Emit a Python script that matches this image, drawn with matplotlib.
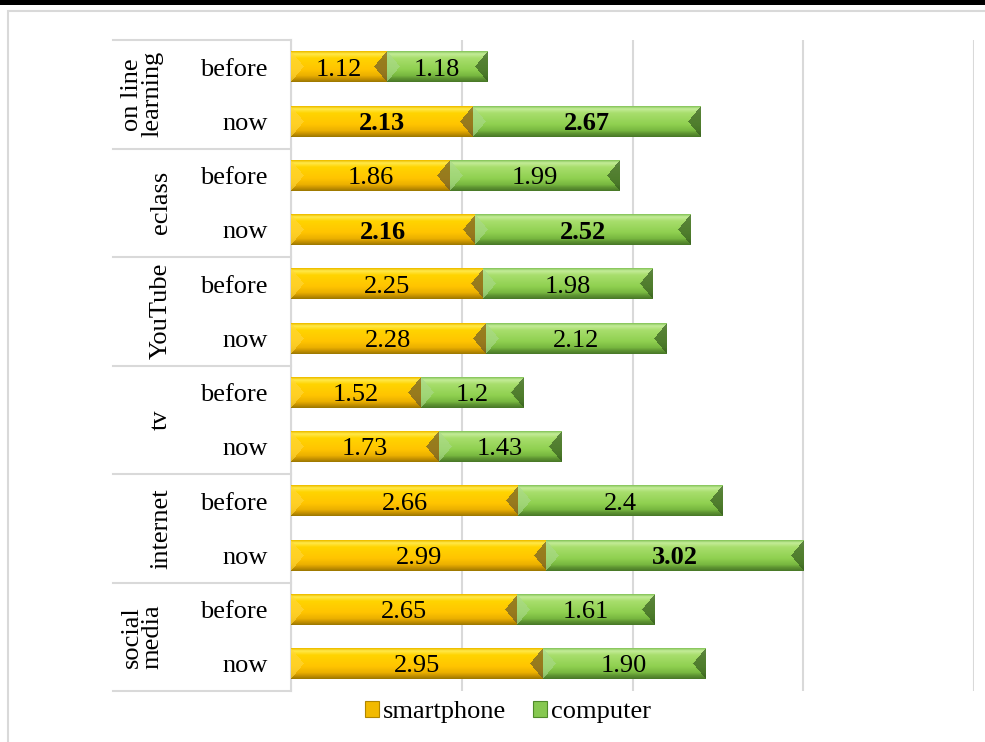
import numpy as np
import matplotlib
matplotlib.use("Agg")
import matplotlib.pyplot as plt
from matplotlib.patches import Rectangle, Patch
from matplotlib.transforms import blended_transform_factory, offset_copy
from matplotlib.colors import to_rgb

plt.rcParams['font.family'] = ['Liberation Serif', 'DejaVu Serif']

# --- data -------------------------------------------------------------
groups = ["on line\nlearning", "eclass", "YouTube", "tv", "internet", "social\nmedia"]
periods = ["before", "now"]
smartphone = [1.12, 2.13, 1.86, 2.16, 2.25, 2.28, 1.52, 1.73, 2.66, 2.99, 2.65, 2.95]
computer = [1.18, 2.67, 1.99, 2.52, 1.98, 2.12, 1.20, 1.43, 2.40, 3.02, 1.61, 1.90]
smartphone_labels = ["1.12", "2.13", "1.86", "2.16", "2.25", "2.28",
                     "1.52", "1.73", "2.66", "2.99", "2.65", "2.95"]
computer_labels = ["1.18", "2.67", "1.99", "2.52", "1.98", "2.12",
                   "1.2", "1.43", "2.4", "3.02", "1.61", "1.90"]
smartphone_bold = [False, True, False, True, False, False,
                   False, False, False, False, False, False]
computer_bold = [False, True, False, True, False, False,
                 False, False, False, True, False, False]

W, H = 985, 742
FS = 19
GRID = "#D9D9D9"

# vertical shading profiles for the bevelled bars (t=0 top, t=1 bottom)
GOLD = {
    "stops": [0.0, 0.08, 0.22, 0.6, 0.8, 0.9, 1.0],
    "cols": ["#EFC000", "#FFE84A", "#FFD400", "#FFC400", "#EBB000", "#C99400", "#A07A00"],
    "left": "#FFD63A", "right": "#6B5A2A",
}
GREEN = {
    "stops": [0.0, 0.08, 0.22, 0.6, 0.8, 0.9, 1.0],
    "cols": ["#8CC860", "#C4EC98", "#A8DE6C", "#8FD050", "#78B840", "#5E9432", "#4A7A28"],
    "left": "#A9D98A", "right": "#345A1E",
}


def bevel_image(nx, ny, style):
    t = np.linspace(0, 1, ny)
    cols = np.array([to_rgb(c) for c in style["cols"]])
    prof = np.stack([np.interp(t, style["stops"], cols[:, k]) for k in range(3)], axis=1)
    img = np.repeat(prof[:, None, :], nx, axis=1)
    # triangular end caps
    xs = np.arange(nx)[None, :] + 0.5
    v = np.abs((np.arange(ny)[:, None] + 0.5) / ny * 2 - 1)
    cap = min(13, nx / 3)
    left = xs < cap * (1 - v)
    right = (nx - xs) < cap * (1 - v)
    lc = np.array(to_rgb(style["left"]))
    rc = np.array(to_rgb(style["right"]))
    img[left] = 0.35 * img[left] + 0.65 * lc
    img[right] = 0.3 * img[right] + 0.7 * rc
    return img


def shade_bars(ax, bars, style, px_per_x, px_h):
    for b in bars:
        x0, y0 = b.get_x(), b.get_y()
        w, h = b.get_width(), b.get_height()
        nx = max(int(round(w * px_per_x)), 3)
        img = bevel_image(nx, px_h, style)
        ax.imshow(img, extent=[x0, x0 + w, y0 + h, y0], aspect="auto",
                  interpolation="bilinear", clip_path=b, zorder=3)


fig = plt.figure(figsize=(W / 100, H / 100), dpi=100)
left_px, right_px, top_px, bot_px = 291, 974, 40, 691
ax = fig.add_axes([left_px / W, 1 - bot_px / H,
                   (right_px - left_px) / W, (bot_px - top_px) / H])

n = len(smartphone)
ypos = np.arange(n)
bh = 0.56
bars_s = ax.barh(ypos, smartphone, height=bh, color="#FFC000", zorder=2)
bars_c = ax.barh(ypos, computer, left=smartphone, height=bh, color="#92D050", zorder=2)

px_per_x = (right_px - left_px) / 8
shade_bars(ax, bars_s, GOLD, px_per_x, 31)
shade_bars(ax, bars_c, GREEN, px_per_x, 31)

ax.set_xlim(0, 8)
ax.set_ylim(n - 0.5, -0.5)

# text sits a touch below the geometric centre of each row
data_tr = offset_copy(ax.transData, fig=fig, y=-2.5, units="dots")

# value labels centred in each segment
for i in range(n):
    ax.text(smartphone[i] / 2, ypos[i], smartphone_labels[i], ha="center", va="center",
            fontsize=FS, fontweight="bold" if smartphone_bold[i] else "normal",
            transform=data_tr, zorder=5)
    ax.text(smartphone[i] + computer[i] / 2, ypos[i], computer_labels[i], ha="center",
            va="center", fontsize=FS, transform=data_tr,
            fontweight="bold" if computer_bold[i] else "normal", zorder=5)

ax.set_xticks([0, 2, 4, 6, 8])
ax.tick_params(axis="both", length=0, labelbottom=False, labelleft=False)
ax.set_yticks([])
ax.grid(axis="x", color=GRID, lw=1.5, zorder=0)
for side in ["top", "right", "bottom"]:
    ax.spines[side].set_visible(False)
ax.spines["left"].set_color(GRID)
ax.spines["left"].set_linewidth(1.5)

# two-level category axis
tr = blended_transform_factory(fig.transFigure, ax.transData)
tr_text = offset_copy(tr, fig=fig, y=-2.5, units="dots")
for i in range(n):
    ax.text(268 / W, ypos[i], periods[i % 2], transform=tr_text, ha="right", va="center",
            fontsize=FS, clip_on=False)
for g, name in enumerate(groups):
    yc = 2 * g + 0.5
    xc = 142 if "\n" in name else 161
    ax.text(xc / W, yc, name, transform=tr, ha="center", va="center", rotation=90,
            fontsize=FS, linespacing=0.9, multialignment="center", clip_on=False)
for k in range(len(groups) + 1):
    yb = 2 * k - 0.5
    ax.plot([113 / W, left_px / W], [yb, yb], transform=tr, color=GRID, lw=1.5,
            clip_on=False, zorder=1)

# legend
handles = [Patch(facecolor="#F2BA00", edgecolor="#B08600", lw=0.8),
           Patch(facecolor="#86C850", edgecolor="#4F8A2A", lw=0.8)]
fig.legend(handles, ["smartphone", "computer"], loc="center",
           bbox_to_anchor=(508 / W, 1 - 712 / H), ncol=2, frameon=False, fontsize=FS,
           handlelength=0.55, handleheight=0.55, handletextpad=0.15,
           columnspacing=1.0, borderpad=0)

# chart frame and the dark band along the top
fig.patches.append(Rectangle((8 / W, -0.1), 1.2, 1 - 11 / H + 0.1, transform=fig.transFigure,
                             fill=False, edgecolor=GRID, lw=1.5))
fig.patches.append(Rectangle((0, 1 - 5 / H), 1, 5 / H, transform=fig.transFigure,
                             facecolor="black", edgecolor="none"))

fig.savefig("out.png", dpi=100)
